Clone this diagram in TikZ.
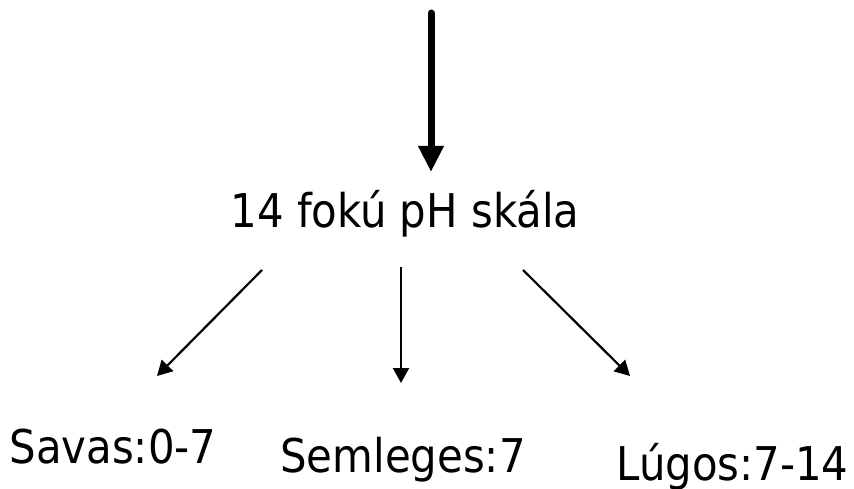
\documentclass[tikz,border=0pt]{standalone}
\usepackage{fontspec}
\setmainfont{DejaVu Sans Condensed}
\usetikzlibrary{arrows.meta}
\begin{document}
\begin{tikzpicture}[x=1bp,y=-1bp,
  lbl/.style={inner sep=0pt,anchor=base,font=\fontsize{46.5bp}{52bp}\selectfont},
  thick arrow/.style={line width=7bp,line cap=round,-{Triangle[length=26bp,width=24bp]}},
  thin arrow/.style={line width=2.2bp,-{Triangle[length=15bp,width=16bp]}}]
\useasboundingbox (0,0) rectangle (854,489);
\node[lbl] (scale) at (405,228) {14 fokú pH skála};
\node[lbl] (acid) at (113,463) {Savas:0-7};
\node[lbl] (neutral) at (403,472) {Semleges:7};
\node[lbl] (base) at (732.5,480) {Lúgos:7-14};
\coordinate (top) at (431,13);
\coordinate (topend) at (431,172);
\coordinate (ls) at (262,270);
\coordinate (le) at (157,376);
\coordinate (ms) at (401,267);
\coordinate (me) at (401,383);
\coordinate (rs) at (523,270);
\coordinate (re) at (630,376);
\draw[thick arrow] (top) -- (topend);
\draw[thin arrow] (ls) -- (le);
\draw[thin arrow] (ms) -- (me);
\draw[thin arrow] (rs) -- (re);
\end{tikzpicture}
\end{document}
